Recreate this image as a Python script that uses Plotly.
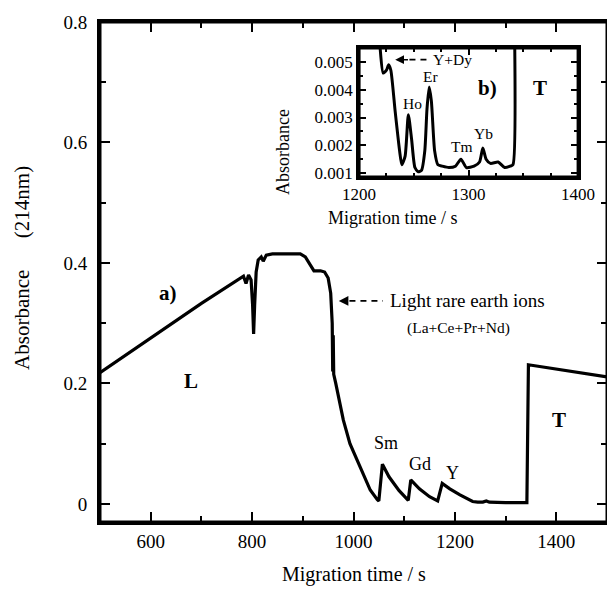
import plotly.graph_objects as go

# Main electropherogram (a)
main_t = [500, 600, 700, 783, 788, 793, 798, 801, 803, 805, 808, 812, 818, 822, 828, 840,
          895, 905, 915, 922, 935, 943, 950, 955, 958, 959, 960, 961, 965, 972, 980, 993,
          1007, 1020, 1033, 1047, 1050, 1057, 1070, 1090, 1108, 1113, 1130, 1150, 1166,
          1175, 1190, 1210, 1224, 1235, 1245, 1255, 1262, 1268, 1300, 1342, 1345, 1400,
          1450, 1500]
main_a = [0.218, 0.275, 0.333, 0.378, 0.366, 0.380, 0.372, 0.33, 0.282, 0.33, 0.385, 0.405,
          0.41, 0.403, 0.413, 0.415, 0.415, 0.41, 0.395, 0.387, 0.387, 0.385, 0.375, 0.35,
          0.30, 0.22, 0.28, 0.215, 0.20, 0.17, 0.139, 0.10, 0.073, 0.045, 0.023, 0.007,
          0.005, 0.066, 0.045, 0.022, 0.006, 0.040, 0.025, 0.012, 0.005, 0.034, 0.025,
          0.015, 0.008, 0.004, 0.003, 0.003, 0.005, 0.003, 0.002, 0.002, 0.231, 0.224,
          0.217, 0.211]

# Inset (b)
ins_t = [1215, 1219, 1222, 1225, 1227, 1229, 1233, 1237, 1239, 1242, 1245, 1248, 1251, 1254,
         1257, 1260, 1262, 1264, 1266, 1269, 1272, 1276, 1282, 1288, 1293, 1298, 1305, 1310,
         1313, 1316, 1320, 1327, 1333, 1338, 1340.5, 1341.5]
ins_a = [0.0075, 0.0056, 0.0046, 0.0047, 0.0049, 0.0047, 0.0032, 0.0018, 0.0013, 0.0016,
         0.0031, 0.0022, 0.0012, 0.00105, 0.0011, 0.0018, 0.0033, 0.0041, 0.0036, 0.0018,
         0.0013, 0.00125, 0.0012, 0.00125, 0.0015, 0.0012, 0.00125, 0.0014, 0.0019, 0.0015,
         0.00135, 0.0014, 0.0012, 0.00125, 0.0013, 0.0075]

main_xticks = [600, 800, 1000, 1200, 1400]
main_yticks = [0, 0.2, 0.4, 0.6, 0.8]
ins_xticks = [1200, 1300, 1400]
ins_yticks = [0.001, 0.002, 0.003, 0.004, 0.005]

FONT = "Liberation Serif"
INSET_X = [0.511, 0.943]
INSET_Y = [0.69, 0.948]

fig = go.Figure()
fig.add_trace(go.Scatter(x=main_t, y=main_a, mode="lines",
                         line=dict(color="black", width=3.2), xaxis="x", yaxis="y",
                         showlegend=False, hoverinfo="skip"))
fig.add_trace(go.Scatter(x=ins_t, y=ins_a, mode="lines",
                         line=dict(color="black", width=3, shape="spline", smoothing=0.6),
                         xaxis="x2", yaxis="y2", showlegend=False, hoverinfo="skip"))

axis_common = dict(showline=True, linecolor="black", mirror="allticks", ticks="inside",
                   tickcolor="black", showgrid=False, zeroline=False, automargin=False)

fig.update_layout(
    width=607, height=596, autosize=False,
    margin=dict(l=100, r=0, t=22, b=74, autoexpand=False),
    paper_bgcolor="white", plot_bgcolor="white",
    font=dict(family=FONT, color="black", size=18),
    xaxis=dict(range=[500, 1500], tickvals=main_xticks, linewidth=3, ticklen=10,
               tickwidth=2, minor=dict(dtick=100, tick0=500, ticklen=6, tickwidth=2,
                                       ticks="inside", tickcolor="black"),
               tickfont=dict(size=19), domain=[0, 1], **axis_common),
    yaxis=dict(range=[-0.03, 0.8], tickvals=main_yticks, linewidth=3, ticklen=10,
               tickwidth=2, minor=dict(dtick=0.1, tick0=0, ticklen=6, tickwidth=2,
                                       ticks="inside", tickcolor="black"),
               tickfont=dict(size=19), ticklabelstandoff=6, domain=[0, 1], **axis_common),
    xaxis2=dict(range=[1200, 1400], tickvals=ins_xticks, linewidth=3, ticklen=7,
                tickwidth=1.5, minor=dict(dtick=25, tick0=1200, ticklen=4, tickwidth=1.5,
                                          ticks="inside", tickcolor="black"),
                tickfont=dict(size=17), domain=INSET_X, anchor="y2", **axis_common),
    yaxis2=dict(range=[0.00086, 0.0055], tickvals=ins_yticks, tickformat=".3f",
                linewidth=3, ticklen=7, tickwidth=1.5,
                minor=dict(dtick=0.0005, tick0=0.001, ticklen=4, tickwidth=1.5,
                           ticks="inside", tickcolor="black"),
                tickfont=dict(size=17), domain=INSET_Y, anchor="x2", **axis_common),
)

ann = []
# axis titles
ann.append(dict(text="Absorbance" + "\u00a0" * 6 + "(214nm)", xref="paper", yref="paper",
                x=-0.154, y=0.508, textangle=-90, showarrow=False, font=dict(size=21),
                xanchor="center", yanchor="middle"))
ann.append(dict(text="Migration time / s", xref="paper", yref="paper", x=0.5, y=-0.105,
                showarrow=False, font=dict(size=20), xanchor="center", yanchor="middle"))
ann.append(dict(text="Absorbance", xref="paper", yref="paper", x=0.361, y=0.83,
                textangle=-90, showarrow=False, font=dict(size=18)))
ann.append(dict(text="Migration time / s", xref="paper", yref="paper", x=0.71, y=0.608,
                showarrow=False, font=dict(size=18)))
# main labels
ann.append(dict(text="<b>a)</b>", x=634, y=0.350, showarrow=False, font=dict(size=21)))
ann.append(dict(text="<b>L</b>", x=679, y=0.204, showarrow=False, font=dict(size=21)))
ann.append(dict(text="<b>T</b>", x=1405, y=0.140, showarrow=False, font=dict(size=21)))
ann.append(dict(text="Sm", x=1063.5, y=0.101, showarrow=False, font=dict(size=18)))
ann.append(dict(text="Gd", x=1130.5, y=0.066, showarrow=False, font=dict(size=18)))
ann.append(dict(text="Y", x=1195.5, y=0.051, showarrow=False, font=dict(size=18)))
ann.append(dict(text="Light rare earth ions", x=1068, y=0.338, xanchor="left",
                showarrow=False, font=dict(size=19)))
ann.append(dict(text="(La+Ce+Pr+Nd)", x=1102, y=0.292, xanchor="left",
                showarrow=False, font=dict(size=15.5)))
ann.append(dict(text="", x=971, y=0.337, ax=992, ay=0.337, axref="x", ayref="y",
                showarrow=True, arrowhead=2, arrowsize=1.2, arrowwidth=1.6,
                arrowcolor="black"))
# inset labels
for txt, xx, yy, sz in [("Er", 1265, 0.00446, 15.5), ("Ho", 1248.4, 0.00352, 15.5),
                        ("Tm", 1294, 0.00194, 15.5), ("Yb", 1314, 0.00244, 15.5)]:
    ann.append(dict(text=txt, x=xx, y=yy, xref="x2", yref="y2", showarrow=False,
                    font=dict(size=sz)))
ann.append(dict(text="Y+Dy", x=1266, y=0.00508, xref="x2", yref="y2", xanchor="left",
                showarrow=False, font=dict(size=15.5)))
ann.append(dict(text="<b>b)</b>", x=1317, y=0.00406, xref="x2", yref="y2",
                showarrow=False, font=dict(size=21)))
ann.append(dict(text="<b>T</b>", x=1365, y=0.00406, xref="x2", yref="y2",
                showarrow=False, font=dict(size=21)))
ann.append(dict(text="", x=1233, y=0.00508, ax=1246, ay=0.00508, xref="x2", yref="y2",
                axref="x2", ayref="y2", showarrow=True, arrowhead=2, arrowsize=1.1,
                arrowwidth=1.6, arrowcolor="black"))
fig.update_layout(annotations=ann)

fig.add_shape(type="line", x0=992, x1=1058, y0=0.337, y1=0.337, xref="x", yref="y",
              line=dict(color="black", width=1.8, dash="6px,5px"))
fig.add_shape(type="line", x0=1246, x1=1263, y0=0.00508, y1=0.00508, xref="x2", yref="y2",
              line=dict(color="black", width=1.8, dash="6px,5px"))
# frames (paper coordinates of the subplot domains)
fig.add_shape(type="rect", x0=0, x1=1, y0=0, y1=1, xref="paper", yref="paper",
              line=dict(color="black", width=3), layer="above")
fig.add_shape(type="rect", x0=INSET_X[0], x1=INSET_X[1], y0=INSET_Y[0], y1=INSET_Y[1],
              xref="paper", yref="paper", line=dict(color="black", width=3), layer="above")

fig.write_html("out.html", config={"responsive": False})
